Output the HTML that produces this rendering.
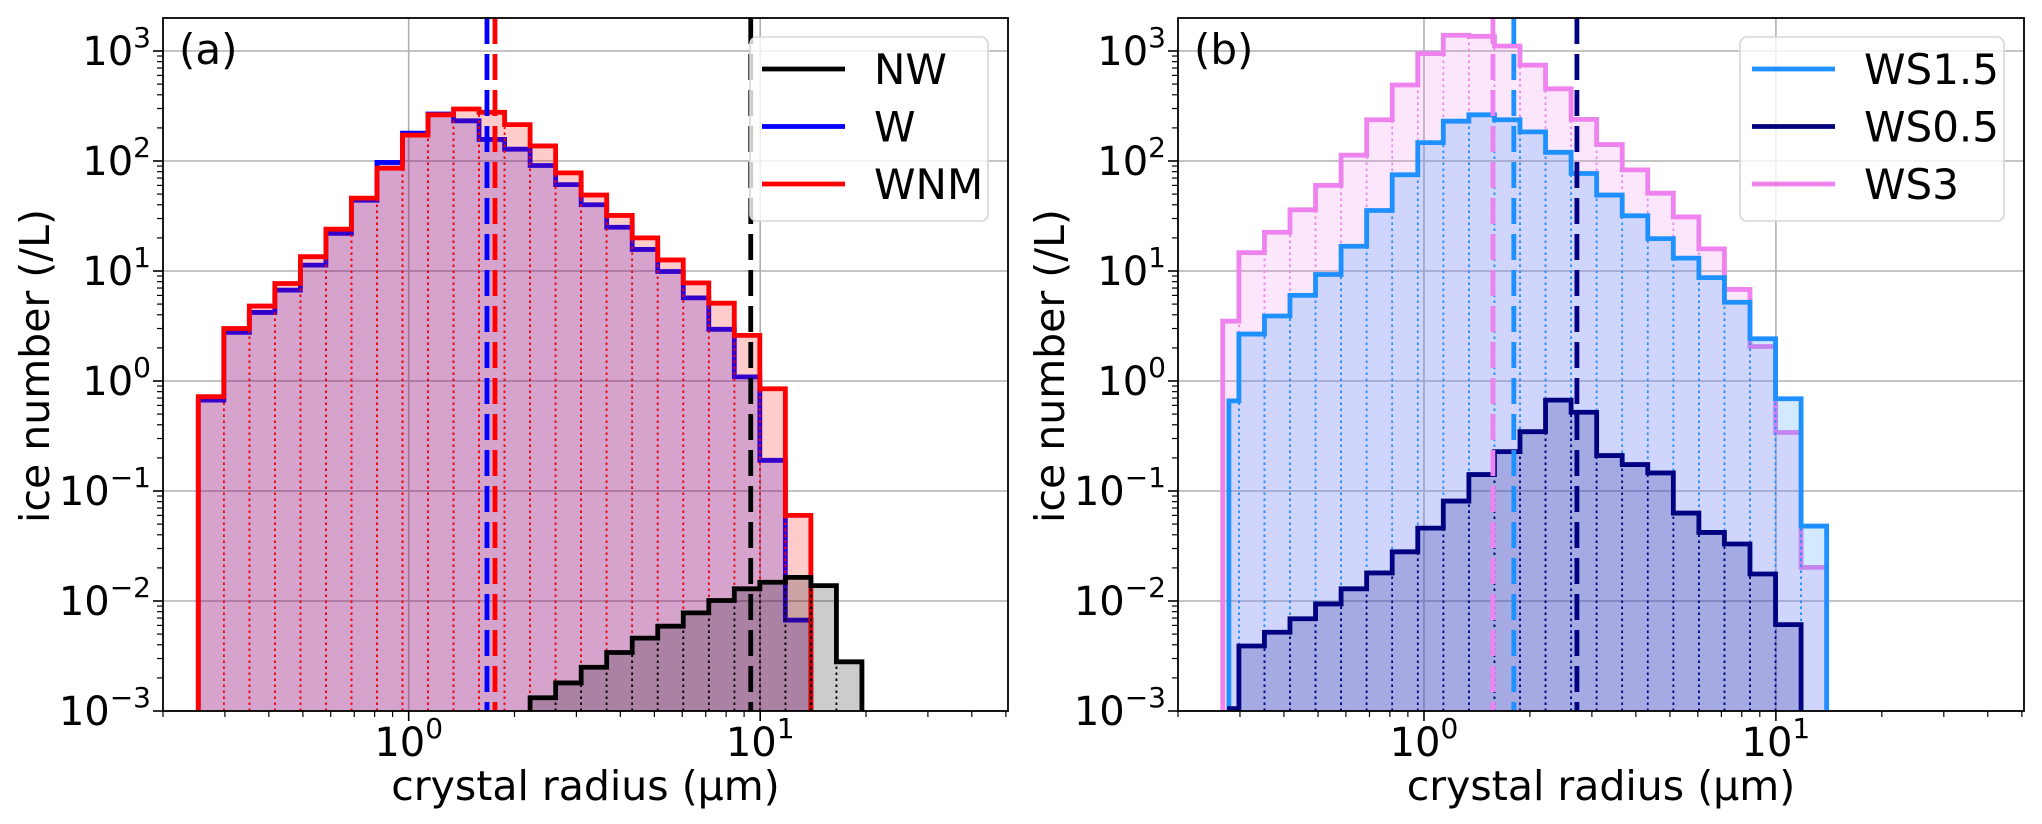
<!DOCTYPE html>
<html><head><meta charset="utf-8"><style>
html,body{margin:0;padding:0;background:#fff;}
svg{display:block;font-family:"DejaVu Sans","Liberation Sans",sans-serif;}
</style></head><body>
<svg id="fig" width="2042" height="824" viewBox="0 0 2042 824" xmlns="http://www.w3.org/2000/svg"></svg>
<script>
// ---- data ----
const radiusEdges = [0.252,0.2979,0.3521,0.4161,0.4919,0.5814,0.6872,0.8123,0.9602,1.1349,1.3415,1.5856,1.8742,2.2153,2.6185,3.0951,3.6584,4.3242,5.1112,6.0414,7.1410,8.4406,9.9768,11.7926,13.9389,16.4758,19.4744];
const wValues   = [0.67,2.77,4.2,6.7,11.3,22,44,97,179,267,232,157,128,91,61,40,25,15.7,9.9,5.7,2.95,1.09,0.19,0.0067];
const wnmValues = [0.72,3.0,4.8,7.7,13.5,24,46,86,172,263,297,277,214,137,78,49,32,20,12.6,7.8,5.1,2.6,0.85,0.06];
const nwStartBin = 13;
const nwValues  = [0.00132,0.0018,0.0025,0.0034,0.0046,0.0059,0.0078,0.0101,0.0129,0.0148,0.0164,0.0138,0.0028];
const ws15Values = [0.66,2.67,3.9,6.0,9.3,16.8,35.5,75,147,230,263,237,184,120,77,49,31.8,19.7,13.1,8.7,5.2,2.42,0.69,0.048];
const ws05Values = [0.00105,0.0039,0.0052,0.0069,0.0094,0.0129,0.018,0.028,0.046,0.081,0.141,0.228,0.346,0.67,0.52,0.21,0.174,0.146,0.063,0.042,0.033,0.0176,0.0061,0];
const ws3Values  = [3.5,14.7,22.5,36,60,113,237,491,948,1390,1360,1110,744,453,239,141,83,51,31,15.9,6.8,2.06,0.34,0.0202];
const firstEdgeB = [0.279,0.28,0.268]; // WS1.5, WS0.5, WS3
const medianA = [9.4,1.67,1.76];       // NW, W, WNM
const medianB = [1.80,2.72,1.57];      // WS1.5, WS0.5, WS3
const yTickExps = [-3,-2,-1,0,1,2,3];
const xTickExps = [0,1];
const X_MIN=0.2, X_MAX=50.7, Y_MIN=1e-3, Y_MAX=Math.pow(10,3.3);

const NS="http://www.w3.org/2000/svg";
const svg=document.getElementById('fig');
function el(tag,attrs,parent){const e=document.createElementNS(NS,tag);for(const k in attrs)e.setAttribute(k,attrs[k]);(parent||svg).appendChild(e);return e;}
const TOP=18,BOT=711;
function yS(v){return BOT-(Math.log10(v)-Math.log10(Y_MIN))/(Math.log10(Y_MAX)-Math.log10(Y_MIN))*(BOT-TOP);}
function makeX(l,r){return v=>l+(Math.log10(v)-Math.log10(X_MIN))/(Math.log10(X_MAX)-Math.log10(X_MIN))*(r-l);}

function panel(id,L,R,label){
  const xS=makeX(L,R);
  const g=el('g',{});
  
  
  const cp=el('clipPath',{id:'clip'+id},g);
  el('rect',{x:L,y:TOP,width:R-L,height:BOT-TOP},cp);
  yTickExps.forEach(e=>{const y=yS(Math.pow(10,e));const ln=el('line',{x1:L,x2:R,y1:y,y2:y,stroke:'#b0b0b0','stroke-width':1.6},g);
    });
  xTickExps.forEach(e=>{const x=xS(Math.pow(10,e));const ln=el('line',{x1:x,x2:x,y1:TOP,y2:BOT,stroke:'#b0b0b0','stroke-width':1.6},g);
    });
  const plot=el('g',{'clip-path':'url(#clip'+id+')'},g);
  const fr=el('rect',{x:L,y:TOP,width:R-L,height:BOT-TOP,fill:'none',stroke:'#000','stroke-width':1.8},g);
  
  yTickExps.forEach(e=>{const y=yS(Math.pow(10,e));
    el('line',{x1:L-10,x2:L,y1:y,y2:y,stroke:'#000','stroke-width':1.6},g);
    const t=el('text',{x:L-12,y:y+14,'text-anchor':'end','font-size':40,fill:'#000'},g);
    
    const a=el('tspan',{},t);a.textContent='10';
    const b=el('tspan',{dy:-18,'font-size':28},t);b.textContent=(e<0?'\u2212':'')+Math.abs(e);
    for(let m=2;m<=9;m++){const v=m*Math.pow(10,e);if(v>Y_MAX)break;const yy=yS(v);
      el('line',{x1:L-6,x2:L,y1:yy,y2:yy,stroke:'#000','stroke-width':1.2},g);}
  });
  for(let e=-1;e<=1;e++){for(let m=1;m<=9;m++){const v=m*Math.pow(10,e);if(v<X_MIN-1e-9||v>X_MAX)continue;const x=xS(v);
    const major=(m===1);el('line',{x1:x,x2:x,y1:BOT,y2:BOT+(major?10:6),stroke:'#000','stroke-width':major?1.6:1.2},g);}}
  xTickExps.forEach(e=>{const x=xS(Math.pow(10,e));
    const t=el('text',{x:x,y:BOT+45,'text-anchor':'middle','font-size':40,fill:'#000'},g);
    
    const a=el('tspan',{},t);a.textContent='10';const b=el('tspan',{dy:-18,'font-size':28},t);b.textContent=String(e);});
  const xl=el('text',{x:(L+R)/2,y:800,'text-anchor':'middle','font-size':41,fill:'#000'},g);
  xl.textContent='crystal radius (\u00b5m)';
  
  const yx=L-128, yy=366;
  const yl=el('text',{x:yx,y:yy,'text-anchor':'middle','font-size':41,fill:'#000',transform:'rotate(-90 '+yx+' '+yy+') translate(0 14)'},g);
  yl.textContent='ice number (/L)';
  
  const pl=el('text',{x:L+16,y:64,'font-size':42,fill:'#000'},g);
  pl.textContent=label;
  return {xS,plot,g,L,R};
}

function hist(P,values,startBin,firstEdge,color,fillAlpha,name){
  const grp=el('g',{},P.plot);
  
  let d='';let started=false;let lastX=null;
  values.forEach((v,i)=>{
    const k=startBin+i;
    let lo=radiusEdges[k];if(i===0&&firstEdge)lo=firstEdge;
    const hi=radiusEdges[k+1];
    if(!(v>0))return;
    const x0=P.xS(lo),x1=P.xS(hi),y=yS(v);
    const r=el('rect',{x:x0,y:y,width:x1-x0,height:BOT+5-y,fill:color,'fill-opacity':fillAlpha},grp);
    
    el('line',{x1:x0,x2:x0,y1:BOT,y2:y,stroke:color,'stroke-width':1.6,'stroke-dasharray':'2.5,3.5'},grp);
    el('line',{x1:x1,x2:x1,y1:BOT,y2:y,stroke:color,'stroke-width':1.6,'stroke-dasharray':'2.5,3.5'},grp);
    if(!started){d+='M'+x0+','+(BOT+5)+' L'+x0+','+y;started=true;}
    else d+=' L'+x0+','+y;
    d+=' L'+x1+','+y;lastX=x1;
  });
  d+=' L'+lastX+','+(BOT+5);
  const p=el('path',{d:d,fill:'none',stroke:color,'stroke-width':4.8,'stroke-linejoin':'miter'},grp);
  
}
function median(P,v,color,name){
  const x=P.xS(v);
  const ln=el('line',{x1:x,x2:x,y1:TOP,y2:BOT,stroke:color,'stroke-width':4.8,'stroke-dasharray':'26,10'},P.plot);
  
}
function legend(P,x,entries){
  const g=el('g',{},P.g);
  
  el('rect',{x:x,y:37,width:P.R-x-20,height:184,rx:7,fill:'#fff','fill-opacity':0.8,stroke:'#d6d6d6','stroke-width':1.6},g);
  entries.forEach((e,i)=>{const y=69+57.5*i;
    const ln=el('line',{x1:x+12,x2:x+95,y1:y,y2:y,stroke:e[1],'stroke-width':4.8},g);
    
    const t=el('text',{x:x+124,y:y+15,'font-size':42,fill:'#000'},g);t.textContent=e[0];
    });
}

const A=panel('a',163,1008,'(a)');
hist(A,wValues,0,null,'#0000ff',0.2,'w');
hist(A,wnmValues,0,null,'#ff0000',0.2,'wnm');
hist(A,nwValues,nwStartBin,null,'#000000',0.2,'nw');
median(A,medianA[0],'#000','nw');
median(A,medianA[1],'#0000ff','w');
median(A,medianA[2],'#ff0000','wnm');
legend(A,750,[['NW','#000'],['W','#0000ff'],['WNM','#ff0000']]);

const B=panel('b',1178,2024,'(b)');
hist(B,ws3Values,0,firstEdgeB[2],'#ee82ee',0.2,'ws3');
hist(B,ws15Values,0,firstEdgeB[0],'#1e90ff',0.2,'ws1-5');
hist(B,ws05Values,0,firstEdgeB[1],'#000080',0.2,'ws0-5');
median(B,medianB[2],'#ee82ee','ws3');
median(B,medianB[0],'#1e90ff','ws1-5');
median(B,medianB[1],'#000080','ws0-5');
legend(B,1740,[['WS1.5','#1e90ff'],['WS0.5','#000080'],['WS3','#ee82ee']]);
</script>
</body></html>
